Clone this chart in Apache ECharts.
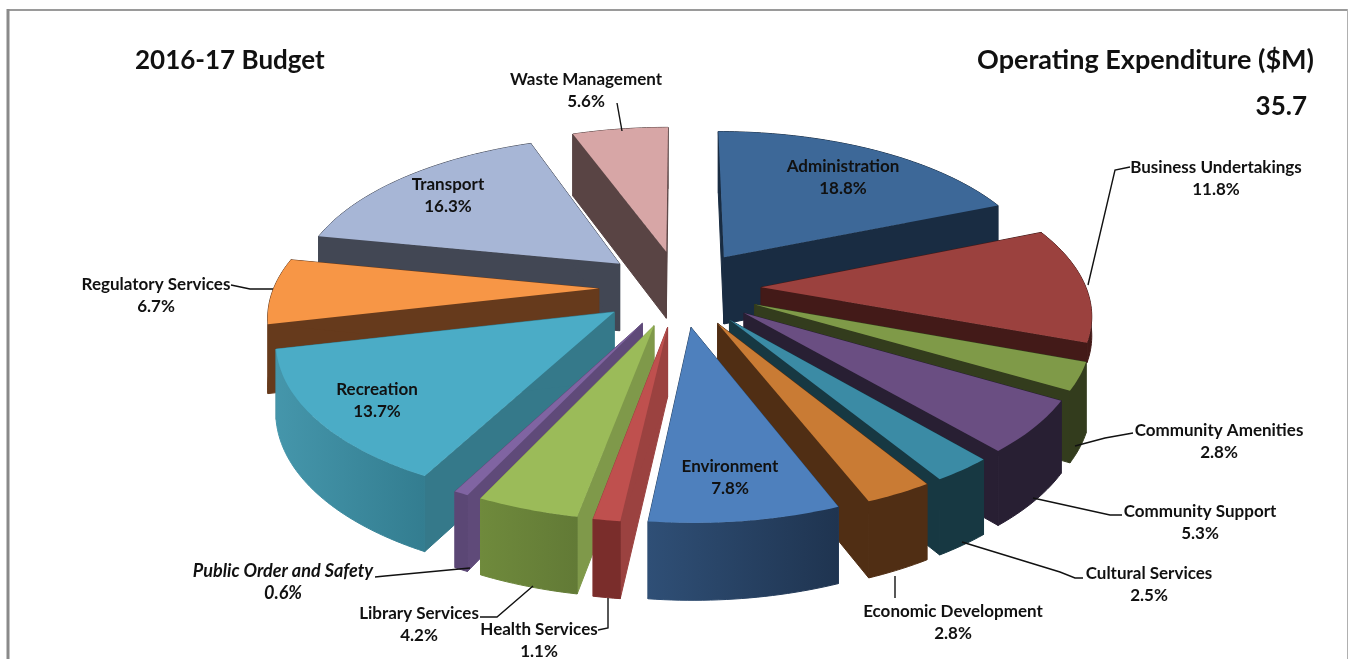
<!DOCTYPE html>
<html>
<head>
<meta charset="utf-8">
<style>
html, body { margin: 0; padding: 0; background: #fff; }
#chart { width: 1353px; height: 659px; }
</style>
<script src="https://cdn.jsdelivr.net/npm/echarts@6/dist/echarts.min.js"></script>
</head>
<body>
<div id="chart"></div>
<script>
const categories = ['Administration', 'Business Undertakings', 'Community Amenities', 'Community Support', 'Cultural Services', 'Economic Development', 'Environment', 'Health Services', 'Library Services', 'Public Order and Safety', 'Recreation', 'Regulatory Services', 'Transport', 'Waste Management']
const shares = [18.8, 11.8, 2.8, 5.3, 2.5, 2.8, 7.8, 1.1, 4.2, 0.6, 13.7, 6.7, 16.3, 5.6]
const totalExpenditure = '35.7'

const topColors = ['#3d6898', '#9b413e', '#7f9a48', '#6a4e82', '#3b8ba5', '#c97b34', '#4e80bd', '#bf504e', '#9bbb59', '#8064a2', '#4bacc6', '#f79646', '#a7b6d6', '#d7a6a6']
const cutColors = ['#192c42', '#431a18', '#333c1d', '#281f33', '#173842', '#502e14', '#2a4668', '#9b4240', '#7f994a', '#5f4a79', '#35798a', '#663a1c', '#424754', '#594444']
const rimColors = [['#192c42', '#192c42'], ['#431a18', '#431a18'], ['#333c1d', '#333c1d'], ['#281f33', '#281f33'], ['#173842', '#173842'], ['#502e14', '#502e14'], ['#2f4f76', '#1f3450'], ['#7a2d2b', '#7a2d2b'], ['#6f8a3c', '#627a36'], ['#5b4775', '#5b4775'], ['#4596ab', '#337d90'], ['#663a1c', '#663a1c'], ['#424754', '#424754'], ['#594444', '#594444']]

// label centre of the name line, then the leader line from label to slice
const labelAt = [[843, 167], [1216, 168], [1219, 431], [1200, 512], [1149, 574], [953, 612], [730, 467], [539, 630], [419, 614], [283, 571], [377, 390], [156, 285], [448, 185], [586, 80]]
const leaders = [
  null,
  [[1130, 167], [1115, 170], [1088, 285]],
  [[1133, 433], [1105, 438], [1075, 446]],
  [[1122, 515], [1110, 515], [1033, 498]],
  [[1083, 578], [1075, 578], [1060, 572], [962, 542]],
  [[895, 598], [895, 576]],
  null,
  [[598, 630], [608, 628], [608, 598]],
  [[480, 617], [497, 617], [533, 586]],
  [[375, 577], [385, 576], [470, 568]],
  null,
  [[231, 285], [250, 289], [273, 289]],
  null,
  [[617, 103], [622, 131]],
]

const FONT = 'Lato'
const CX = 680
const CY = 288
const RX = 325
const RY = 153
const PERSP = 0.15
const EXPLODE = 0.25

const total = shares.reduce((a, b) => a + b, 0)
let acc = 0
const rows = shares.map((v, i) => {
  const row = [i, acc, acc + v]
  acc += v
  return row
})
// painter order: slices at the back of the pie first
const toAngle = v => echarts.number.linearMap(v, [0, total], [0, Math.PI * 2])
rows.sort((p, q) => -Math.cos(toAngle((q[1] + q[2]) / 2)) < -Math.cos(toAngle((p[1] + p[2]) / 2)) ? 1 : -1)

function project(a, b) {
  const s = 1 / (1 - PERSP * b)
  return { x: CX + RX * a * s, y: CY + RY * b * s, depth: 27 + 41 * s }
}

function renderSlice(params, api) {
  const i = api.value(0)
  const a0 = toAngle(api.value(1))
  const a1 = toAngle(api.value(2))
  const mid = (a0 + a1) / 2
  const ox = EXPLODE * Math.sin(mid)
  const oy = -EXPLODE * Math.cos(mid)
  const apex = project(ox, oy)
  const steps = Math.max(2, Math.ceil((a1 - a0) / 0.02))
  const arc = []
  for (let k = 0; k <= steps; k++) {
    const t = a0 + (a1 - a0) * k / steps
    arc.push(project(ox + Math.sin(t), oy - Math.cos(t)))
  }
  const first = arc[0]
  const last = arc[arc.length - 1]
  const base = params.dataIndex * 4
  // the wall of Business Undertakings only shows as a thin strip in the original
  const squat = categories[i] === 'Business Undertakings' ? 0.28 : 1
  const upper = p => [p.x, p.y]
  const lower = p => [p.x, p.y + p.depth * squat]
  const wall = (p, color) => ({
    type: 'polygon',
    z2: base,
    shape: { points: [upper(apex), upper(p), lower(p), lower(apex)] },
    style: { fill: color, stroke: color, lineWidth: 1 },
  })
  const rimFill = new echarts.graphic.LinearGradient(0, 0, 1, 0, [
    { offset: 0, color: rimColors[i][0] },
    { offset: 1, color: rimColors[i][1] },
  ])
  const italic = categories[i] === 'Public Order and Safety'
  const children = [
    wall(first, cutColors[i]),
    wall(last, cutColors[i]),
    {
      type: 'polygon',
      z2: base + 1,
      shape: { points: arc.map(upper).concat(arc.map(lower).reverse()) },
      style: { fill: rimFill, stroke: rimFill, lineWidth: 1 },
    },
    {
      type: 'polygon',
      z2: base + 2,
      shape: { points: [upper(apex)].concat(arc.map(upper)) },
      style: { fill: topColors[i] },
    },
  ]
  if (leaders[i]) {
    children.push({
      type: 'polyline',
      z2: 200,
      shape: { points: leaders[i] },
      style: { stroke: '#111', lineWidth: 1.4, fill: null },
    })
  }
  children.push({
    type: 'text',
    z2: 201,
    x: labelAt[i][0],
    y: labelAt[i][1] + 11,
    style: {
      text: categories[i] + '\n' + shares[i].toFixed(1) + '%',
      fill: '#111',
      font: (italic ? 'italic bold 18px ' : 'bold 17px ') + FONT,
      lineHeight: 22,
      align: 'center',
      verticalAlign: 'middle',
    },
  })
  return { type: 'group', children }
}

const chart = echarts.init(document.getElementById('chart'), null, { renderer: 'canvas' })
chart.setOption({
  backgroundColor: '#fff',
  animation: false,
  title: [
    { text: '2016-17 Budget', left: 130, top: 43, textStyle: { fontFamily: FONT, fontWeight: 'bold', fontSize: 26, color: '#111' } },
    { text: 'Operating Expenditure ($M)', right: 34, top: 42, textStyle: { fontFamily: FONT, fontWeight: 'bold', fontSize: 27, color: '#111' } },
    { text: totalExpenditure, right: 41, top: 89, textStyle: { fontFamily: FONT, fontWeight: 'bold', fontSize: 26, color: '#111' } },
  ],
  graphic: [
    { type: 'line', shape: { x1: 8, y1: 10, x2: 1347, y2: 10 }, style: { stroke: '#9a9a9a', lineWidth: 2 } },
    { type: 'line', shape: { x1: 8, y1: 9, x2: 8, y2: 659 }, style: { stroke: '#8a8a8a', lineWidth: 3 } },
    { type: 'line', shape: { x1: 1347.5, y1: 9, x2: 1347.5, y2: 659 }, style: { stroke: '#b0b0b0', lineWidth: 1 } },
  ],
  series: [{
    type: 'custom',
    coordinateSystem: 'none',
    renderItem: renderSlice,
    data: rows,
    silent: true,
  }],
})
</script>
</body>
</html>
